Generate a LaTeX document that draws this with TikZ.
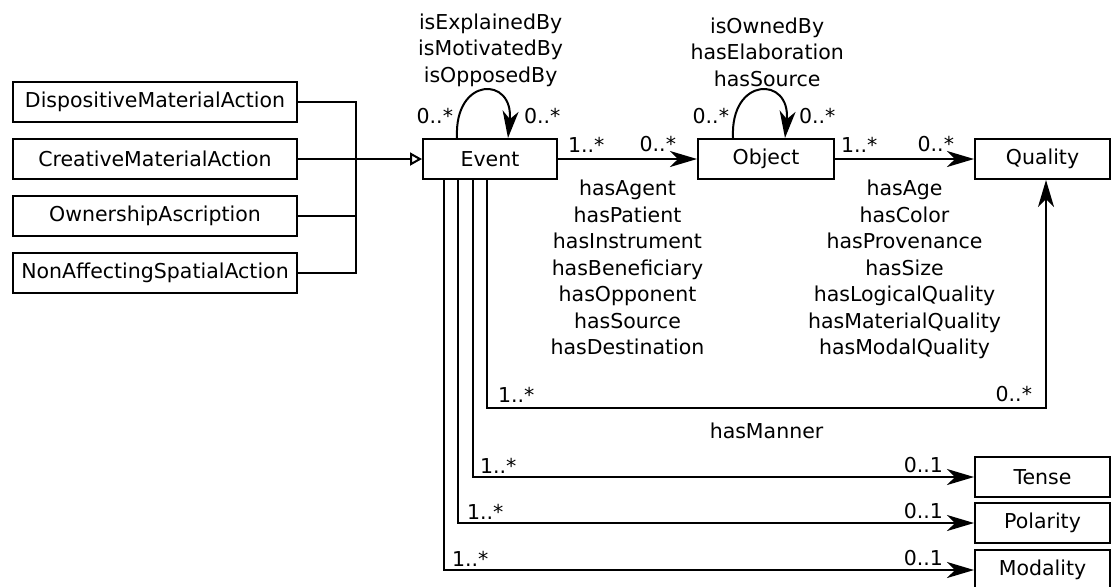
\documentclass[tikz,border=0pt]{standalone}
\usepackage{fontspec}
\setmainfont{DejaVu Sans}
\usetikzlibrary{arrows.meta,positioning,calc}

\begin{document}
\begin{tikzpicture}[
  x=0.5pt, y=-0.5pt,
  font=\fontsize{10.25pt}{13.25pt}\selectfont,
  node distance=7.5pt,
  cls/.style={draw,line width=1pt,minimum height=20pt,minimum width=#1,inner sep=2pt},
  cls/.default=67pt,
  assoc/.style={-{Stealth[length=13.5pt,width=8pt,inset=4pt]},line width=1pt},
  gen/.style={-{Triangle[open,length=6pt,width=6.5pt]},line width=1pt},
  mult/.style={inner sep=1.5pt},
  role/.style={align=center,inner sep=2pt}
]
  \useasboundingbox (0,0) rectangle (1113,586);

  \node[cls=142pt] (disp) at (155,102) {DispositiveMaterialAction};
  \node[cls=142pt,below=of disp] (creat) {CreativeMaterialAction};
  \node[cls=142pt,below=of creat] (own) {OwnershipAscription};
  \node[cls=142pt,below=of own] (nonaff) {NonAffectingSpatialAction};

  \node[cls=67pt] (event) at (490,159) {Event};
  \node[cls=68pt,right=69.5pt of event] (object) {Object};
  \node[cls=67.5pt,right=69.5pt of object] (quality) {Quality};
  \node[cls=67.5pt,below=138pt of quality] (tense) {Tense};
  \node[cls=67.5pt,below=2pt of tense] (polarity) {Polarity};
  \node[cls=67.5pt,below=2.5pt of polarity] (modality) {Modality};

  \coordinate (join) at (356,159);
  \draw[line width=1pt] (disp.east) -| (join |- nonaff.east) -- (nonaff.east);
  \draw[line width=1pt] (own.east) -- (join |- own.east);
  \draw[gen] (creat.east) -- (event.west);

  \draw[assoc] ([xshift=-16.5pt]event.north) .. controls +(-1.5pt,31pt) and +(3pt,31pt) .. ([xshift=9pt]event.north)
    node[mult,pos=0,anchor=south east,yshift=5pt] {0..*}
    node[mult,pos=1,anchor=south west,xshift=6pt,yshift=5pt] {0..*}
    node[role,pos=0.5,above,xshift=3.5pt] {isExplainedBy\\isMotivatedBy\\isOpposedBy};
  \draw[assoc] ([xshift=-16.5pt]object.north) .. controls +(-1.5pt,31pt) and +(3pt,31pt) .. ([xshift=9.5pt]object.north)
    node[mult,pos=0,anchor=south east,yshift=5pt] {0..*}
    node[mult,pos=1,anchor=south west,xshift=5pt,yshift=5pt] {0..*}
    node[role,pos=0.5,above,xshift=3.5pt] {isOwnedBy\\hasElaboration\\hasSource};

  \draw[assoc] (event.east) -- (object.west)
    node[mult,pos=0,anchor=south west,xshift=3pt,yshift=1.5pt] {1..*}
    node[mult,pos=1,anchor=south east,xshift=-8.5pt,yshift=1.5pt] {0..*}
    node[role,midway,below=8pt] {hasAgent\\hasPatient\\hasInstrument\\hasBeneficiary\\hasOpponent\\hasSource\\hasDestination};
  \draw[assoc] (object.east) -- (quality.west)
    node[mult,pos=0,anchor=south west,xshift=1pt,yshift=1.5pt] {1..*}
    node[mult,pos=1,anchor=south east,xshift=-8pt,yshift=1.5pt] {0..*}
    node[role,midway,below=8pt] {hasAge\\hasColor\\hasProvenance\\hasSize\\hasLogicalQuality\\hasMaterialQuality\\hasModalQuality};

  \coordinate (mannerL) at (487,408);
  \coordinate (mannerR) at (1046,408);
  \draw[assoc] (event.south -| mannerL) -- (mannerL)
    -- node[mult,pos=0,anchor=south west,xshift=3.5pt,yshift=1pt] {1..*}
       node[mult,pos=1,anchor=south east,xshift=-5pt,yshift=1pt] {0..*}
       node[role,midway,below=5pt] {hasManner} (mannerR)
    -- (mannerR |- quality.south);

  \draw[assoc] ([xshift=-8.5pt]event.south) |- (tense.west)
    node[mult,pos=0.5,anchor=south west,xshift=1.5pt] {1..*}
    node[mult,pos=1,anchor=south east,xshift=-13.5pt] {0..1};
  \draw[assoc] ([xshift=-16pt]event.south) |- (polarity.west)
    node[mult,pos=0.5,anchor=south west,xshift=2.5pt] {1..*}
    node[mult,pos=1,anchor=south east,xshift=-13.5pt] {0..1};
  \draw[assoc] ([xshift=-23pt]event.south) |- (modality.west)
    node[mult,pos=0.5,anchor=south west,xshift=2pt] {1..*}
    node[mult,pos=1,anchor=south east,xshift=-13.5pt] {0..1};
\end{tikzpicture}
\end{document}
